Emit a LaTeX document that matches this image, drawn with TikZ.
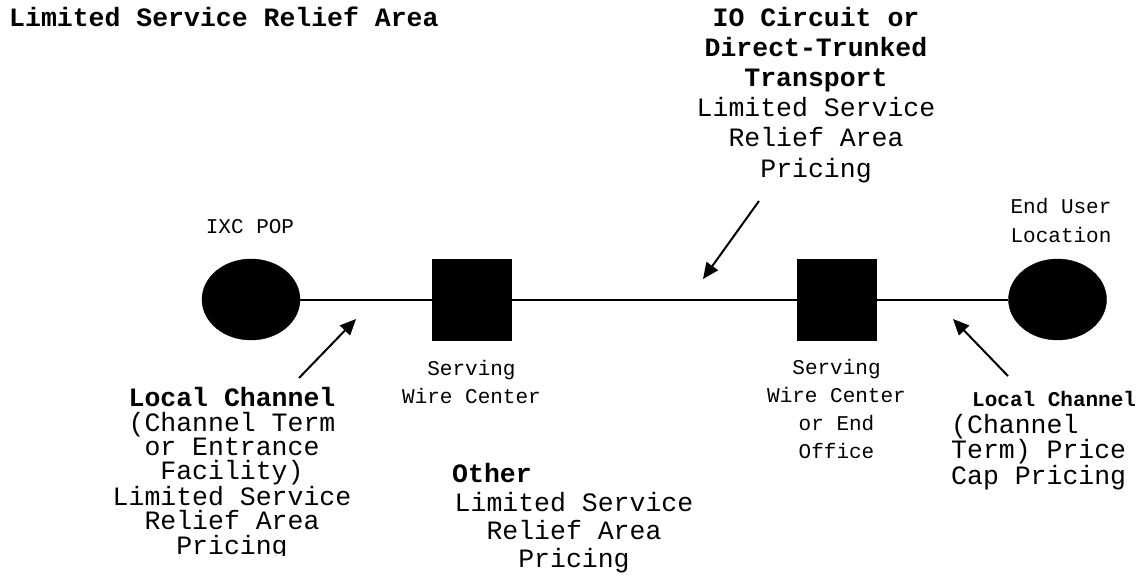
\documentclass[tikz,border=0pt]{standalone}
\usepackage{fontspec}
\setmainfont{Liberation Mono}
\usetikzlibrary{arrows.meta,shapes.geometric}
\begin{document}
\begin{tikzpicture}[x=1pt,y=-1pt,
  txt/.style={inner sep=0pt,anchor=base},
  big/.style={txt,font=\fontsize{26.5}{30}\selectfont},
  small/.style={txt,font=\fontsize{21}{28}\selectfont},
  site/.style={ellipse,fill=black,draw=black,minimum width=98pt,minimum height=81pt,inner sep=0pt},
  office/.style={rectangle,fill=black,draw=black,minimum width=79pt,minimum height=81pt,inner sep=0pt},
  link/.style={line width=2pt},
  arr/.style={line width=2pt,-{Triangle[length=16pt,width=14pt]}}
]
\useasboundingbox (0,0) rectangle (1143,579);

% shapes
\node[site] (pop) at (251,299.5) {};
\node[office] (sw1) at (471.5,299.5) {};
\node[office] (sw2) at (836.5,299.5) {};
\node[site] (eu) at (1057.5,299.5) {};
\draw[link] (pop) -- (sw1) -- (sw2) -- (eu);

% title
\node[big,anchor=base west,font=\fontsize{26.5}{30}\selectfont\bfseries] (title) at (9,26) {Limited Service Relief Area};

% IO block (base = last line)
\node[big,align=center,font=\fontsize{26.5}{30.2}\selectfont] (io) at (816,177)
  {\textbf{IO Circuit or}\\\textbf{Direct-Trunked}\\\textbf{Transport}\\Limited Service\\Relief Area\\Pricing};

% small labels
\node[small,align=center] (popl) at (250,233) {IXC POP};
\node[small,align=center,font=\fontsize{21}{29}\selectfont] (eul) at (1061,242) {End User\\Location};
\node[small,align=center] (sw1l) at (471.5,403) {Serving\\Wire Center};
\node[small,align=center,font=\fontsize{21}{27.7}\selectfont] (sw2l) at (836.5,458) {Serving\\Wire Center\\or End\\Office};

% left local channel (clipped at bottom)
\begin{scope}
\clip (90,380) rectangle (370,555);
\node[big,align=center,font=\fontsize{26.5}{24.3}\selectfont] (lcl) at (232,554)
  {\textbf{Local Channel}\\(Channel Term\\or Entrance\\Facility)\\Limited Service\\Relief Area\\Pricing};
\end{scope}

% other
\node[big,anchor=base west,font=\fontsize{26.5}{30}\selectfont\bfseries] (oth) at (452,482) {Other};
\node[big,align=center,font=\fontsize{26.5}{28}\selectfont] (othp) at (574,567) {Limited Service\\Relief Area\\Pricing};

% right local channel
\node[small,anchor=base west,font=\fontsize{21}{28}\selectfont\bfseries] (lcr) at (972,406) {Local Channel};
\node[big,anchor=base west,align=left,font=\fontsize{26.5}{25.5}\selectfont] (lcrp) at (951,484) {(Channel\\Term) Price\\Cap Pricing};

% arrows
\coordinate (a1t) at (299,378);
\coordinate (a1h) at (356,319);
\coordinate (a2t) at (759,201);
\coordinate (a2h) at (703,279);
\coordinate (a3t) at (1008,376);
\coordinate (a3h) at (953,319);
\draw[arr] (a1t) -- (a1h);
\draw[arr] (a2t) -- (a2h);
\draw[arr] (a3t) -- (a3h);
\end{tikzpicture}
\end{document}
